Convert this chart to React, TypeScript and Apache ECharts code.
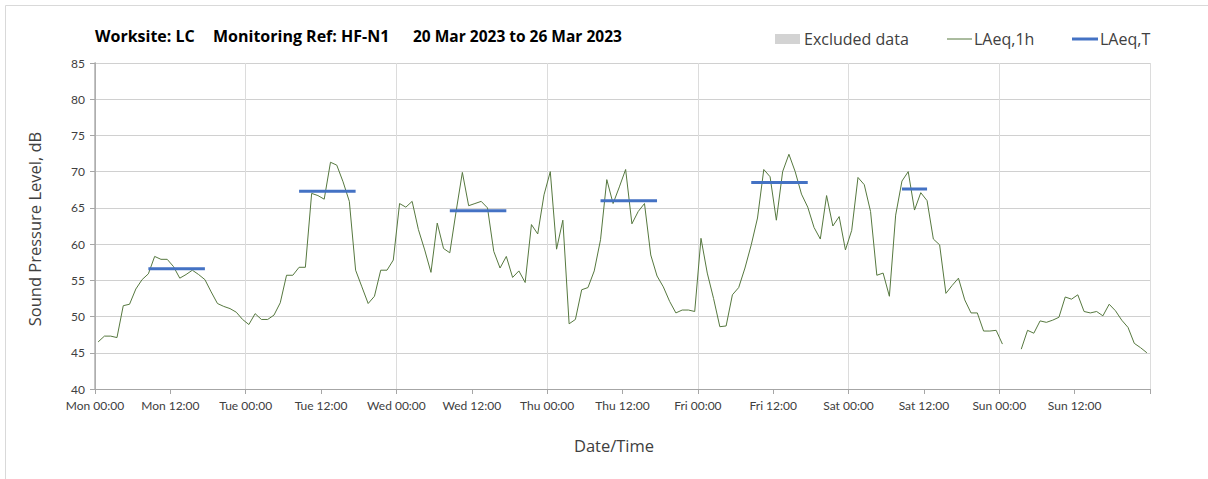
import React, { useEffect, useRef } from "react";
import * as echarts from "echarts";

const dayNames = ["Mon", "Tue", "Wed", "Thu", "Fri", "Sat", "Sun"];

// Hourly LAeq,1h values, Mon 00:00 .. Sun 23:00 (null = no data)
const lAeq1h: (number | null)[] = [
  46.5, 47.3, 47.3, 47.1, 51.5, 51.7, 53.8, 55.1, 55.9, 58.3, 57.9, 57.9,
  56.9, 55.3, 55.8, 56.4, 55.8, 55.1, 53.4, 51.8, 51.4, 51.1, 50.6, 49.6,
  48.9, 50.4, 49.6, 49.6, 50.2, 51.9, 55.7, 55.7, 56.8, 56.8, 67.0, 66.7,
  66.2, 71.3, 70.9, 68.6, 65.9, 56.4, 54.1, 51.8, 52.8, 56.4, 56.4, 57.8,
  65.6, 65.1, 65.9, 62.0, 59.2, 56.1, 62.9, 59.4, 58.8, 64.5, 69.9, 65.3,
  65.6, 65.9, 65.0, 59.0, 56.7, 58.3, 55.4, 56.3, 54.7, 62.7, 61.4, 66.8,
  70.0, 59.3, 63.3, 49.0, 49.6, 53.7, 54.0, 56.3, 60.6, 68.9, 65.6, 67.9,
  70.3, 62.8, 64.5, 65.6, 58.5, 55.6, 54.1, 52.1, 50.5, 50.9, 50.9, 50.7,
  60.8, 56.0, 52.5, 48.6, 48.7, 53.0, 54.0, 56.7, 59.9, 63.6, 70.3, 69.3,
  63.3, 70.0, 72.4, 70.0, 66.9, 65.1, 62.3, 60.7, 66.7, 62.5, 63.8, 59.2,
  61.9, 69.2, 68.2, 64.5, 55.7, 56.0, 52.8, 64.0, 68.7, 70.0, 64.7, 67.1,
  66.0, 60.7, 59.9, 53.2, 54.3, 55.3, 52.3, 50.5, 50.5, 48.0, 48.0, 48.1,
  46.2, null, null, 45.5, 48.1, 47.7, 49.4, 49.2, 49.5, 49.9, 52.7, 52.4,
  53.0, 50.7, 50.5, 50.7, 50.1, 51.7, 50.8, 49.5, 48.5, 46.3, 45.7, 45.0,
];

// LAeq,T periods
const ltDayIndex = [0, 1, 2, 3, 4, 5];
const ltValues = [56.6, 67.3, 64.6, 66.0, 68.5, 67.6];
const ltStartHour = [8, 8, 8, 8, 8, 8];
const ltEndHour = [17, 17, 17, 17, 17, 12];

const yMin = 40;
const yMax = 85;
const yStep = 5;
const hoursTotal = 168;

const FONT = "Lato, 'Open Sans', sans-serif";
const FONT2 = "'Open Sans', Lato, sans-serif";

export default function App() {
  const ref = useRef<HTMLDivElement>(null);

  useEffect(() => {
    if (!ref.current) return;
    const chart = echarts.init(ref.current, undefined, { renderer: "svg" });

    const lineData = lAeq1h.map((v, i) => [i + 0.5, v === null ? "-" : v]);
    const ltData: any[] = [];
    ltDayIndex.forEach((d, k) => {
      ltData.push([d * 24 + ltStartHour[k] + 0.5, ltValues[k]]);
      ltData.push([d * 24 + ltEndHour[k] + 0.5, ltValues[k]]);
      ltData.push([d * 24 + ltEndHour[k] + 1, "-"]);
    });

    const legendY = 39;
    chart.setOption({
      animation: false,
      backgroundColor: "#ffffff",
      grid: { left: 95, right: 58, top: 63, bottom: 90, containLabel: false },
      xAxis: [
        {
          type: "value",
          min: 0,
          max: hoursTotal,
          interval: 12,
          axisLine: { show: true, lineStyle: { color: "#a6a6a6", width: 1 } },
          axisTick: { show: true, length: 5, lineStyle: { color: "#a6a6a6" } },
          splitLine: { show: false },
          axisLabel: {
            color: "#404040",
            fontFamily: FONT,
            fontSize: 12,
            margin: 10,
            showMaxLabel: true,
            formatter: (v: number) => {
              if (v >= hoursTotal) return "";
              const d = Math.floor(v / 24);
              return dayNames[d] + (v % 24 === 0 ? " 00:00" : " 12:00");
            },
          },
        },
        {
          type: "value",
          min: 0,
          max: hoursTotal,
          interval: 24,
          position: "bottom",
          axisLine: { show: false },
          axisTick: { show: false },
          axisLabel: { show: false },
          splitLine: { show: true, lineStyle: { color: "#dcdcdc", width: 1 } },
        },
      ],
      yAxis: [
        {
          type: "value",
          min: yMin,
          max: yMax,
          interval: yStep,
          axisLine: { show: true, lineStyle: { color: "#a6a6a6", width: 1 } },
          axisTick: { show: true, length: 5, lineStyle: { color: "#a6a6a6" } },
          splitLine: { show: true, lineStyle: { color: "#d0d0d0", width: 1 } },
          axisLabel: { color: "#404040", fontFamily: FONT, fontSize: 12, margin: 10 },
        },
        {
          type: "value",
          min: yMin,
          max: yMax,
          interval: yStep,
          position: "right",
          axisLine: { show: true, lineStyle: { color: "#b0b0b0", width: 1.5 } },
          axisTick: { show: false },
          axisLabel: { show: false },
          splitLine: { show: false },
        },
      ],
      series: [
        {
          name: "LAeq,1h",
          type: "line",
          xAxisIndex: 0,
          yAxisIndex: 0,
          data: lineData,
          showSymbol: false,
          symbol: "none",
          connectNulls: false,
          lineStyle: { color: "#56783f", width: 1 },
          z: 3,
        },
        {
          name: "LAeq,T",
          type: "line",
          xAxisIndex: 0,
          yAxisIndex: 0,
          data: ltData,
          showSymbol: false,
          symbol: "none",
          connectNulls: false,
          lineStyle: { color: "#4472c4", width: 3, cap: "butt" },
          z: 4,
        },
      ],
      graphic: [
        {
          type: "rect",
          shape: { x: 5.5, y: 5.5, width: 1230, height: 500 },
          style: { fill: "none", stroke: "#d9d9d9", lineWidth: 1 },
          silent: true,
        },
        {
          type: "text",
          x: 95,
          y: 36,
          style: { text: "Worksite: LC", font: `bold 16px ${FONT2}`, fill: "#000000", verticalAlign: "middle" },
        },
        {
          type: "text",
          x: 213,
          y: 36,
          style: { text: "Monitoring Ref: HF-N1", font: `bold 16px ${FONT2}`, fill: "#000000", verticalAlign: "middle" },
        },
        {
          type: "text",
          x: 413,
          y: 36,
          style: { text: "20 Mar 2023 to 26 Mar 2023", font: `bold 15.5px ${FONT2}`, fill: "#000000", verticalAlign: "middle" },
        },
        {
          type: "rect",
          shape: { x: 775, y: legendY - 5, width: 25, height: 10 },
          style: { fill: "#d3d3d3" },
        },
        {
          type: "text",
          x: 804,
          y: legendY,
          style: { text: "Excluded data", font: `16px ${FONT2}`, fill: "#404040", verticalAlign: "middle" },
        },
        {
          type: "line",
          shape: { x1: 947, y1: legendY, x2: 972, y2: legendY },
          style: { stroke: "#56783f", lineWidth: 1 },
        },
        {
          type: "text",
          x: 974,
          y: legendY,
          style: { text: "LAeq,1h", font: `16px ${FONT2}`, fill: "#404040", verticalAlign: "middle" },
        },
        {
          type: "line",
          shape: { x1: 1072, y1: legendY, x2: 1098, y2: legendY },
          style: { stroke: "#4472c4", lineWidth: 3 },
        },
        {
          type: "text",
          x: 1100,
          y: legendY,
          style: { text: "LAeq,T", font: `16px ${FONT2}`, fill: "#404040", verticalAlign: "middle" },
        },
        {
          type: "text",
          x: 614,
          y: 445,
          style: { text: "Date/Time", font: `16.5px ${FONT2}`, fill: "#404040", align: "center", verticalAlign: "middle" },
        },
        {
          type: "text",
          x: 34,
          y: 229,
          rotation: Math.PI / 2,
          style: { text: "Sound Pressure Level, dB", font: `16.5px ${FONT2}`, fill: "#404040", align: "center", verticalAlign: "middle" },
        },
      ],
    });

    return () => chart.dispose();
  }, []);

  return (
    <div
      ref={ref}
      style={{ position: "fixed", left: 0, top: 0, width: 1208, height: 479 }}
    />
  );
}
